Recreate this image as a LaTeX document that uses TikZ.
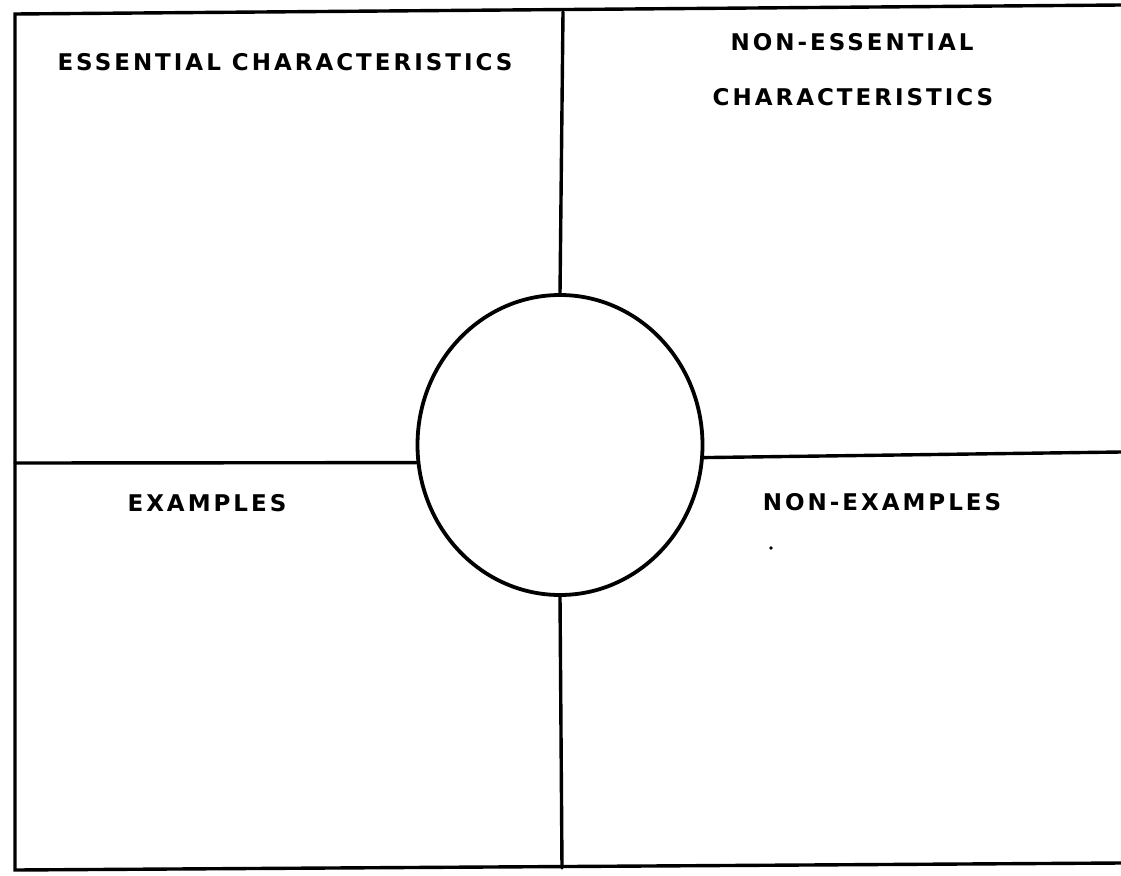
\documentclass[tikz,border=0pt]{standalone}
\usepackage{fontspec}
\setmainfont{DejaVu Sans}
\newfontfamily\labelfont[LetterSpace=13]{DejaVu Sans Bold}
\usetikzlibrary{shapes.geometric}
\begin{document}
\begin{tikzpicture}[x=1pt,y=-1pt,
  rule/.style={line width=3.4pt, line cap=round, black},
  lbl/.style={font=\labelfont\fontsize{23}{27}\selectfont, inner sep=0pt, anchor=center},
  hub/.style={ellipse, draw, line width=3.8pt, minimum width=285pt, minimum height=300pt, inner sep=0pt}]
\useasboundingbox (0,0) rectangle (1121,875);
% outer frame corners
\coordinate (tl) at (15,14);
\coordinate (tr) at (1121,5);
\coordinate (bl) at (15,870);
\coordinate (br) at (1121,863);
\coordinate (tm) at (563,12);
\coordinate (bm) at (562,868);
\coordinate (lm) at (15,463);
\coordinate (rm) at (1121,452);
% central circle
\node[hub] (c) at (560,445) {};
% frame
\draw[rule] (tr) -- (tl) -- (bl) -- (br);
% dividers
\draw[rule] (tm) -- (c.north);
\draw[rule] (c.south) -- (bm);
\draw[rule] (lm) -- (c.187);
\draw[rule] (c.355) -- (rm);
% labels
\node[lbl] (ess) at (285,62) {ESSENTIAL CHARACTERISTICS};
\node[lbl] (ness1) at (852,42) {NON-ESSENTIAL};
\node[lbl] (ness2) at (853,97) {CHARACTERISTICS};
\node[lbl] (ex) at (207,503) {EXAMPLES};
\node[lbl] (nex) at (882,502) {NON-EXAMPLES};
% speck
\fill (771,548) circle (1.8pt);
\end{tikzpicture}
\end{document}
